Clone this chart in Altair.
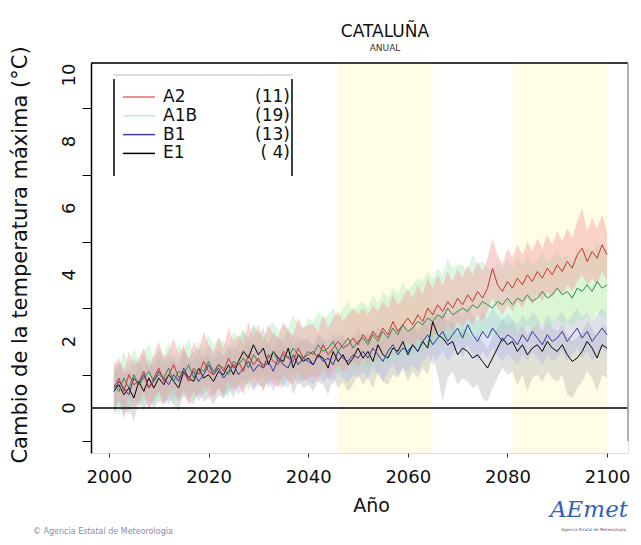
import altair as alt
import pandas as pd

years = list(range(2001, 2101))

a2_mean = [0.6, 0.9, 0.5, 1.0, 0.7, 0.8, 1.1, 0.6, 0.9, 1.2,
           0.8, 1.0, 1.3, 0.9, 1.1, 0.8, 1.2, 1.0, 1.4, 1.1,
           1.0, 1.3, 1.1, 1.5, 1.2, 1.4, 1.1, 1.6, 1.3, 1.5,
           1.2, 1.6, 1.4, 1.3, 1.7, 1.5, 1.4, 1.8, 1.5, 1.6,
           1.7, 1.5, 1.9, 1.6, 1.8, 2.0, 1.8, 1.9, 2.1, 1.9,
           2.2, 2.0, 2.3, 2.1, 2.4, 2.2, 2.6, 2.3, 2.5, 2.7,
           2.5, 2.8, 2.6, 3.0, 2.8, 3.1, 2.9, 3.2, 3.0, 3.3,
           3.1, 3.4, 3.2, 3.5, 3.3, 3.6, 4.2, 3.7, 3.5, 3.8,
           3.6, 3.9, 3.7, 4.0, 3.8, 4.1, 3.9, 4.2, 4.0, 4.3,
           4.1, 4.4, 4.2, 4.6, 4.8, 4.4, 4.7, 4.5, 4.9, 4.6]
a2_hi = [1.3, 1.5, 1.1, 1.7, 1.3, 1.5, 1.8, 1.2, 1.6, 2.0,
         1.5, 1.7, 2.1, 1.6, 1.9, 1.4, 2.0, 1.7, 2.3, 1.9,
         1.7, 2.1, 1.8, 2.4, 2.0, 2.2, 1.9, 2.6, 2.1, 2.5,
         2.0, 2.5, 2.2, 2.1, 2.6, 2.3, 2.2, 2.7, 2.4, 2.5,
         2.5, 2.3, 2.8, 2.4, 2.7, 2.9, 2.6, 2.8, 3.0, 2.8,
         3.0, 2.8, 3.1, 2.9, 3.2, 3.0, 3.4, 3.1, 3.3, 3.6,
         3.3, 3.7, 3.4, 3.9, 3.6, 4.0, 3.7, 4.1, 3.8, 4.2,
         3.9, 4.3, 4.0, 4.4, 4.1, 4.5, 5.1, 4.6, 4.3, 4.8,
         4.5, 4.9, 4.6, 5.0, 4.7, 5.1, 4.8, 5.2, 4.9, 5.3,
         5.0, 5.4, 5.1, 5.6, 6.0, 5.3, 5.7, 5.4, 5.8, 5.3]
a2_lo = [-0.1, 0.3, -0.2, 0.4, 0.0, 0.2, 0.5, -0.1, 0.3, 0.5,
         0.1, 0.4, 0.6, 0.2, 0.5, 0.1, 0.5, 0.3, 0.7, 0.4,
         0.3, 0.6, 0.4, 0.8, 0.5, 0.7, 0.4, 0.9, 0.6, 0.8,
         0.5, 0.9, 0.7, 0.6, 1.0, 0.8, 0.7, 1.1, 0.8, 0.9,
         1.0, 0.8, 1.2, 0.9, 1.1, 1.3, 1.1, 1.2, 1.4, 1.2,
         1.5, 1.3, 1.6, 1.4, 1.7, 1.5, 1.9, 1.6, 1.8, 2.0,
         1.8, 2.1, 1.9, 2.3, 2.1, 2.4, 2.2, 2.5, 2.3, 2.6,
         2.4, 2.7, 2.5, 2.8, 2.6, 2.9, 3.3, 3.0, 2.8, 3.1,
         2.9, 3.2, 3.0, 3.3, 3.1, 3.4, 3.2, 3.5, 3.3, 3.6,
         3.4, 3.7, 3.5, 3.8, 4.0, 3.7, 3.9, 3.7, 4.1, 3.8]

a1b_mean = [0.7, 0.5, 0.9, 0.6, 1.0, 0.7, 0.9, 1.1, 0.8, 1.0,
            0.9, 1.2, 0.8, 1.1, 1.0, 1.3, 0.9, 1.2, 1.1, 1.4,
            1.1, 1.3, 1.2, 1.0, 1.4, 1.3, 1.5, 1.2, 1.6, 1.4,
            1.3, 1.5, 1.7, 1.4, 1.6, 1.5, 1.8, 1.6, 1.5, 1.7,
            1.6, 1.9, 1.7, 1.8, 2.0, 1.7, 1.9, 2.1, 1.8, 2.0,
            2.1, 1.9, 2.2, 2.0, 2.3, 2.1, 2.4, 2.2, 2.5, 2.3,
            2.4, 2.6, 2.5, 2.7, 2.6, 2.8, 2.7, 3.0, 2.8, 2.9,
            3.0, 2.9, 3.1, 3.0, 3.2, 3.1, 3.0, 3.2, 3.1, 3.3,
            3.1, 3.3, 3.2, 3.4, 3.2, 3.3, 3.5, 3.3, 3.4, 3.6,
            3.4, 3.5, 3.3, 3.6, 3.5, 3.7, 3.5, 3.8, 3.6, 3.7]
a1b_hi = [1.4, 1.2, 1.7, 1.3, 1.8, 1.4, 1.7, 1.9, 1.5, 1.8,
          1.6, 2.0, 1.5, 1.9, 1.7, 2.1, 1.6, 2.0, 1.8, 2.2,
          1.9, 2.1, 2.0, 1.8, 2.3, 2.1, 2.4, 2.0, 2.5, 2.3,
          2.1, 2.4, 2.6, 2.3, 2.5, 2.4, 2.8, 2.5, 2.4, 2.7,
          2.6, 2.9, 2.7, 2.8, 3.0, 2.7, 3.0, 3.2, 2.9, 3.1,
          3.2, 3.0, 3.4, 3.1, 3.5, 3.3, 3.6, 3.4, 3.8, 3.5,
          3.7, 3.9, 3.8, 4.1, 3.9, 4.2, 4.0, 4.5, 4.2, 4.3,
          4.3, 4.1, 4.6, 4.3, 4.4, 4.2, 4.1, 4.4, 4.2, 4.5,
          4.2, 4.5, 4.3, 4.6, 4.3, 4.4, 4.7, 4.4, 4.5, 4.8,
          4.5, 4.6, 4.4, 4.8, 4.6, 4.9, 4.6, 5.0, 4.7, 4.8]
a1b_lo = [0.0, -0.2, 0.2, -0.1, 0.3, 0.0, 0.2, 0.4, 0.1, 0.3,
          0.2, 0.5, 0.1, 0.4, 0.3, 0.6, 0.2, 0.5, 0.4, 0.7,
          0.4, 0.6, 0.5, 0.3, 0.7, 0.6, 0.8, 0.5, 0.9, 0.7,
          0.6, 0.8, 1.0, 0.7, 0.9, 0.8, 1.1, 0.9, 0.8, 1.0,
          0.9, 1.2, 1.0, 1.1, 1.3, 1.0, 1.2, 1.4, 1.1, 1.3,
          1.3, 1.1, 1.4, 1.2, 1.5, 1.3, 1.6, 1.4, 1.7, 1.5,
          1.6, 1.8, 1.7, 1.9, 1.8, 2.0, 1.9, 2.1, 2.0, 2.1,
          2.1, 2.0, 2.2, 2.1, 2.3, 2.2, 2.1, 2.3, 2.2, 2.4,
          2.2, 2.4, 2.3, 2.5, 2.3, 2.4, 2.6, 2.4, 2.5, 2.7,
          2.5, 2.6, 2.4, 2.7, 2.6, 2.8, 2.6, 2.9, 2.7, 2.8]

b1_mean = [0.5, 0.8, 0.6, 0.4, 0.9, 0.7, 1.0, 0.6, 0.8, 1.1,
           0.9, 0.7, 1.0, 0.8, 1.2, 0.9, 1.1, 0.8, 1.0, 1.3,
           1.0, 1.2, 0.9, 1.1, 1.3, 1.0, 1.2, 1.4, 1.1, 1.3,
           1.2, 1.4, 1.1, 1.5, 1.3, 1.2, 1.6, 1.3, 1.5, 1.4,
           1.3, 1.6, 1.4, 1.5, 1.3, 1.7, 1.5, 1.4, 1.6, 1.5,
           1.7, 1.5, 1.8, 1.6, 1.4, 1.7, 1.9, 1.6, 1.8, 1.7,
           1.9, 1.7, 2.0, 2.2, 1.9, 2.1, 2.3, 2.0, 2.2, 2.4,
           2.1, 2.5, 2.2, 2.0, 2.3, 2.1, 2.4, 2.2, 2.0, 2.2,
           2.1, 1.9, 2.2, 2.0, 2.3, 2.1, 1.9, 2.2, 2.0, 2.1,
           2.3, 2.0, 2.2, 2.4, 2.1, 2.3, 2.0, 2.2, 2.4, 2.2]
b1_hi = [1.1, 1.4, 1.2, 1.0, 1.5, 1.3, 1.6, 1.2, 1.4, 1.7,
         1.5, 1.3, 1.6, 1.4, 1.8, 1.5, 1.7, 1.4, 1.6, 1.9,
         1.6, 1.8, 1.5, 1.7, 1.9, 1.6, 1.8, 2.0, 1.7, 1.9,
         1.8, 2.0, 1.7, 2.1, 1.9, 1.8, 2.2, 1.9, 2.1, 2.0,
         1.9, 2.2, 2.0, 2.1, 1.9, 2.3, 2.1, 2.0, 2.2, 2.1,
         2.3, 2.1, 2.4, 2.2, 2.0, 2.3, 2.5, 2.2, 2.4, 2.3,
         2.5, 2.3, 2.6, 2.8, 2.5, 2.7, 2.9, 2.6, 2.8, 3.0,
         2.7, 3.1, 2.8, 2.6, 2.9, 2.7, 3.0, 2.8, 2.6, 2.8,
         2.7, 2.5, 2.8, 2.6, 2.9, 2.7, 2.5, 2.8, 2.6, 2.7,
         2.9, 2.6, 2.8, 3.0, 2.7, 2.9, 2.6, 2.8, 3.0, 2.8]
b1_lo = [-0.1, 0.2, 0.0, -0.2, 0.3, 0.1, 0.4, 0.0, 0.2, 0.5,
         0.3, 0.1, 0.4, 0.2, 0.6, 0.3, 0.5, 0.2, 0.4, 0.7,
         0.4, 0.6, 0.3, 0.5, 0.7, 0.4, 0.6, 0.8, 0.5, 0.7,
         0.6, 0.8, 0.5, 0.9, 0.7, 0.6, 1.0, 0.7, 0.9, 0.8,
         0.7, 1.0, 0.8, 0.9, 0.7, 1.1, 0.9, 0.8, 1.0, 0.9,
         1.1, 0.9, 1.2, 1.0, 0.8, 1.1, 1.3, 1.0, 1.2, 1.1,
         1.3, 1.1, 1.4, 1.6, 1.3, 1.5, 1.7, 1.4, 1.6, 1.8,
         1.5, 1.9, 1.6, 1.4, 1.7, 1.5, 1.8, 1.6, 1.4, 1.6,
         1.5, 1.3, 1.6, 1.4, 1.7, 1.5, 1.3, 1.6, 1.4, 1.5,
         1.7, 1.4, 1.6, 1.8, 1.5, 1.7, 1.4, 1.6, 1.8, 1.6]

e1_mean = [0.5, 0.7, 0.4, 0.6, 0.3, 0.8, 0.5, 0.9, 0.6, 0.9,
           0.7, 1.0, 0.8, 0.6, 1.1, 0.9, 0.8, 1.2, 0.9, 1.0,
           0.8, 1.1, 1.0, 1.3, 1.0, 1.4, 1.7, 1.5, 1.9, 1.6,
           1.8, 1.3, 1.7, 1.5, 1.4, 1.8, 1.2, 1.6, 1.4, 1.5,
           1.3, 1.6, 1.5, 1.2, 1.7, 1.4, 1.6, 1.3, 1.5, 1.8,
           1.5, 1.7, 1.4, 1.9, 1.6, 1.5, 1.8, 1.7, 2.0, 1.6,
           1.9, 1.7, 2.0, 1.8, 2.6, 2.2, 2.1, 1.9, 2.0, 1.6,
           1.8, 1.7, 1.5, 1.6, 1.4, 1.2, 1.5, 1.8, 2.1, 1.9,
           2.0, 1.7, 1.9, 1.6, 1.8, 1.9, 1.7, 2.0, 1.8, 1.7,
           1.9, 1.6, 1.4, 1.5, 1.7, 2.0, 1.8, 1.5, 1.9, 1.8]
e1_hi = [1.1, 1.3, 1.0, 1.2, 0.9, 1.4, 1.1, 1.5, 1.2, 1.5,
         1.3, 1.6, 1.4, 1.2, 1.7, 1.5, 1.4, 1.8, 1.5, 1.6,
         1.4, 1.7, 1.6, 1.9, 1.6, 2.0, 2.3, 2.1, 2.5, 2.2,
         2.4, 1.9, 2.3, 2.1, 2.0, 2.4, 1.8, 2.2, 2.0, 2.1,
         1.9, 2.2, 2.1, 1.8, 2.3, 2.0, 2.2, 1.9, 2.1, 2.4,
         2.1, 2.3, 2.0, 2.5, 2.2, 2.1, 2.4, 2.3, 2.6, 2.2,
         2.5, 2.3, 2.6, 2.4, 3.0, 2.8, 2.7, 2.5, 2.6, 2.2,
         2.4, 2.3, 2.1, 2.2, 2.0, 1.8, 2.1, 2.4, 2.7, 2.5,
         2.6, 2.3, 2.5, 2.2, 2.4, 2.5, 2.3, 2.6, 2.4, 2.3,
         2.5, 2.2, 2.0, 2.1, 2.3, 2.6, 2.4, 2.1, 2.5, 2.4]
e1_lo = [-0.2, 0.1, -0.3, 0.0, -0.4, 0.2, -0.1, 0.3, 0.0, 0.2,
         0.1, 0.3, 0.1, -0.1, 0.4, 0.2, 0.1, 0.5, 0.2, 0.3,
         0.1, 0.4, 0.3, 0.6, 0.3, 0.7, 0.9, 0.7, 1.0, 0.8,
         1.0, 0.6, 0.9, 0.7, 0.6, 1.0, 0.4, 0.8, 0.6, 0.7,
         0.5, 0.8, 0.7, 0.4, 0.9, 0.6, 0.8, 0.5, 0.7, 1.0,
         0.7, 0.9, 0.6, 1.1, 0.8, 0.7, 1.0, 0.9, 1.2, 0.8,
         1.1, 0.9, 1.2, 1.0, 1.6, 1.0, 0.2, 0.9, 1.1, 0.7,
         0.9, 0.8, 0.6, 0.7, 0.3, 0.2, 0.6, 0.9, 1.2, 1.0,
         1.1, 0.7, 1.0, 0.5, 0.9, 1.0, 0.8, 1.1, 0.9, 0.8,
         1.0, 0.4, 0.3, 0.6, 0.8, 1.1, 0.9, 0.5, 1.0, 0.9]

scenarios = ["A2", "A1B", "B1", "E1"]
counts = ["(11)", "(19)", "(13)", "( 4)"]
band_colors = {"E1": "#a8a8a8", "B1": "#a8b0ee", "A1B": "#98e8ac", "A2": "#f4a0a0"}
band_opacity = {"E1": 0.35, "B1": 0.35, "A1B": 0.35, "A2": 0.45}
line_colors = {"A2": "#c83232", "A1B": "#2c8a4a", "B1": "#2f35a0", "E1": "#000000"}
legend_colors = ["#e06a6a", "#b8f0c8", "#3c3ca0", "#000000"]
periods_start = [2046, 2081]
periods_end = [2065, 2100]
y_ticks = [-1, 0, 1, 2, 3, 4, 5, 6, 7, 8, 9, 10]
y_labels = [0, 2, 4, 6, 8, 10]
x_ticks = [2000, 2020, 2040, 2060, 2080, 2100]

series = {
    "A2": (a2_mean, a2_lo, a2_hi),
    "A1B": (a1b_mean, a1b_lo, a1b_hi),
    "B1": (b1_mean, b1_lo, b1_hi),
    "E1": (e1_mean, e1_lo, e1_hi),
}

W, H = 537, 390
FONT = "DejaVu Sans"
xs = alt.Scale(domain=[1996.4, 2104.2], nice=False, zero=False)
ys = alt.Scale(domain=[-1.35, 10.36], nice=False, zero=False)

def one(text=""):
    return pd.DataFrame({"t": [text]})

# yellow periods
per = pd.DataFrame({"s": periods_start, "e": periods_end})
bands_bg = alt.Chart(per).mark_rect(color="#fffde6").encode(
    x=alt.X("s:Q", scale=xs,
            axis=alt.Axis(values=x_ticks, format="d", title="Año", labelFont=FONT, labelFontSize=18,
                          titleFont=FONT, titleFontSize=19, titleFontWeight="normal",
                          domain=False, tickSize=4, labelPadding=11, titlePadding=10, titleX=280,
                          tickColor="#333", labelColor="#111", titleColor="#111", grid=False,
                          labelOverlap=False, labelFlush=False)),
    x2="e:Q",
    y=alt.value(0), y2=alt.value(H),
)

yaxis_layer = alt.Chart(pd.DataFrame({"v": y_ticks})).mark_rule(opacity=0).encode(
    y=alt.Y("v:Q", scale=ys,
            axis=alt.Axis(values=y_ticks, labels=False, title=None, tickSize=9,
                          domainColor="#000", domainWidth=1.5, tickColor="#000", grid=False)),
)

ylab_layer = alt.Chart(pd.DataFrame({"v": y_labels})).mark_text(
    font=FONT, fontSize=18, angle=270, align="center", baseline="middle", color="#111").encode(
    y=alt.Y("v:Q", scale=ys), x=alt.value(-21), text=alt.Text("v:Q", format="d"))

layers = [bands_bg, yaxis_layer, ylab_layer]
for s in ["E1", "B1", "A1B", "A2"]:
    m, lo, hi = series[s]
    df = pd.DataFrame({"year": years, "lo": lo, "hi": hi})
    layers.append(alt.Chart(df).mark_area(color=band_colors[s], opacity=band_opacity[s]).encode(
        x=alt.X("year:Q", scale=xs), y=alt.Y("lo:Q", scale=ys), y2="hi:Q"))
for s in ["E1", "B1", "A1B", "A2"]:
    m, lo, hi = series[s]
    df = pd.DataFrame({"year": years, "mean": m})
    layers.append(alt.Chart(df).mark_line(color=line_colors[s], strokeWidth=1).encode(
        x=alt.X("year:Q", scale=xs), y=alt.Y("mean:Q", scale=ys)))

# zero line, frame
layers.append(alt.Chart(one()).mark_rule(color="#000", strokeWidth=1.5).encode(
    x=alt.value(0), x2=alt.value(W), y=alt.value(345)))
layers.append(alt.Chart(one()).mark_rule(color="#000", strokeWidth=1.5).encode(
    x=alt.value(0), x2=alt.value(W), y=alt.value(0)))
layers.append(alt.Chart(one()).mark_rule(color="#999", strokeWidth=1.5).encode(
    x=alt.value(W), y=alt.value(0), y2=alt.value(378)))

# y title
layers.append(alt.Chart(one("Cambio de la temperatura máxima (°C)")).mark_text(
    font=FONT, fontSize=21, angle=270, align="center", baseline="middle", color="#111").encode(
    x=alt.value(-70), y=alt.value(192), text="t:N"))

# legend box
layers.append(alt.Chart(one()).mark_rule(color="#bbb", strokeWidth=1).encode(
    x=alt.value(23), x2=alt.value(201), y=alt.value(12)))
layers.append(alt.Chart(one()).mark_rule(color="#000", strokeWidth=1.5).encode(
    x=alt.value(23), y=alt.value(16), y2=alt.value(113)))
layers.append(alt.Chart(one()).mark_rule(color="#000", strokeWidth=1.5).encode(
    x=alt.value(201), y=alt.value(16), y2=alt.value(113)))
for i, s in enumerate(scenarios):
    yy = 34 + i * 18.8
    layers.append(alt.Chart(one()).mark_rule(color=legend_colors[i], strokeWidth=1.5).encode(
        x=alt.value(32), x2=alt.value(64), y=alt.value(yy)))
    layers.append(alt.Chart(one(s)).mark_text(font=FONT, fontSize=17, align="left", baseline="middle", color="#111").encode(
        x=alt.value(72), y=alt.value(yy), text="t:N"))
    layers.append(alt.Chart(one(counts[i])).mark_text(font=FONT, fontSize=17, align="right", baseline="middle", color="#111").encode(
        x=alt.value(199), y=alt.value(yy), text="t:N"))

# titles
layers.append(alt.Chart(one("CATALUÑA")).mark_text(font=FONT, fontSize=17, color="#111").encode(
    x=alt.value(294), y=alt.value(-31), text="t:N"))
layers.append(alt.Chart(one("ANUAL")).mark_text(font=FONT, fontSize=9, color="#333").encode(
    x=alt.value(294), y=alt.value(-15), text="t:N"))

# footer
layers.append(alt.Chart(one("© Agencia Estatal de Meteorología")).mark_text(font=FONT, fontSize=8, color="#7f8fa6", align="left").encode(
    x=alt.value(-58), y=alt.value(469), text="t:N"))
layers.append(alt.Chart(one("AEmet")).mark_text(font="DejaVu Serif", fontSize=23, fontStyle="italic", color="#2f62b8", align="right").encode(
    x=alt.value(537), y=alt.value(447), text="t:N"))
layers.append(alt.Chart(one("Agencia Estatal de Meteorología")).mark_text(font=FONT, fontSize=4, color="#556", align="right").encode(
    x=alt.value(535), y=alt.value(467), text="t:N"))

chart = alt.layer(*layers).properties(
    width=W, height=H,
    autosize=alt.AutoSizeParams(type="none"),
    padding={"left": 83, "top": 55, "right": 5, "bottom": 84},
).configure_view(stroke=None).configure(background="white")

chart.save("out.html", embed_options={"renderer": "svg", "actions": False})
